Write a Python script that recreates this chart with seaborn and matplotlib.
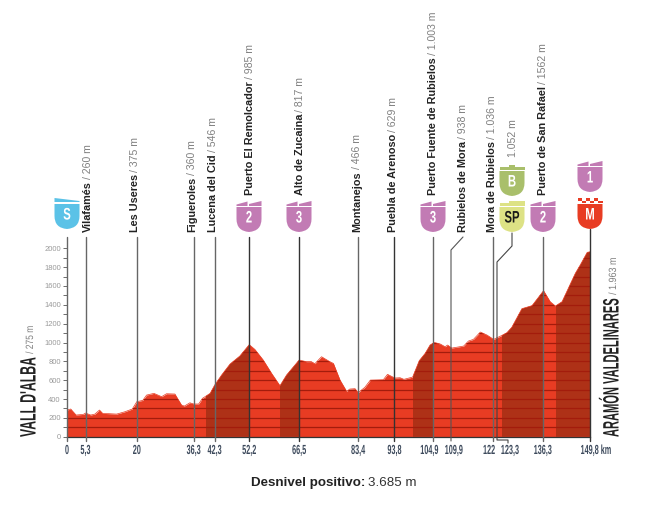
# -*- coding: utf-8 -*-
import numpy as np
import matplotlib
matplotlib.use("Agg")
import matplotlib.pyplot as plt
from matplotlib.patches import PathPatch, Polygon
from matplotlib.path import Path
from matplotlib.patheffects import AbstractPathEffect
from matplotlib.transforms import Affine2D
import pandas as pd
import seaborn as sns

# profile
km = [0, 1.05, 2.6, 4.7, 5.3, 6.8, 8, 9.3, 10.2, 14.2, 16.6, 18.7, 20, 21.7, 22.8, 24.9, 27.1, 28.5,
      30.9, 32.8, 33.6, 35.2, 36.3, 37.7, 38.8, 41, 42.3, 44.3, 46.7, 49.5, 52.2, 53.8, 56.2, 58.6,
      61, 62.9, 66.5, 68.6, 70, 71, 72.9, 75.3, 76.3, 78.2, 80.1, 81, 82.5, 83.4, 85.3, 86.9, 90.6,
      91.8, 93.9, 95.4, 96.5, 99, 100.9, 102.6, 104, 105.2, 106.9, 108.3, 109, 110.2, 113.6, 115,
      116.4, 118.4, 120.3, 122.2, 124.6, 126, 127.4, 130.3, 133.2, 136.5, 138.4, 139.9, 141.8,
      145.6, 147, 149, 149.8]
altitude = [283, 294, 230, 237, 251, 230, 240, 283, 248, 240, 265, 294, 372, 385, 442, 460, 425, 456,
            453, 336, 325, 360, 347, 347, 407, 460, 548, 655, 771, 856, 977, 927, 814, 672,
            541, 655, 814, 796, 796, 775, 849, 796, 778, 601, 481, 506, 510, 467, 524, 601, 605,
            662, 623, 626, 609, 633, 807, 885, 973, 1001, 984, 955, 973, 941, 962, 1016,
            1033, 1111, 1079, 1033, 1076, 1104, 1161, 1359, 1391, 1550, 1433, 1387, 1433,
            1734, 1822, 1957, 1963]

dark_from = [39.8, 61, 99, 124.6, 140]
dark_to = [52.2, 66.5, 105.2, 136.3, 149.8]

tick_km = [0, 5.3, 20, 36.3, 42.3, 52.2, 66.5, 83.4, 93.8, 104.9, 122, 136.3, 149.8]
tick_text_km = [0, 5.3, 20, 36.3, 42.3, 52.2, 66.5, 83.4, 93.8, 103.8, 110.8, 120.9, 126.9, 136.3, 151.5]
tick_text = ["0", "5,3", "20", "36,3", "42,3", "52,2", "66,5", "83,4", "93,8", "104,9", "109,9",
             "122", "123,3", "136,3", "149,8 km"]

place_names = ["Vilafamés", "Les Useres", "Figueroles", "Lucena del Cid", "Puerto El Remolcador",
               "Alto de Zucaina", "Montanejos", "Puebla de Arenoso", "Puerto Fuente de Rubielos",
               "Rubielos de Mora", "Mora de Rubielos", "Puerto de San Rafael"]
place_heights = ["260 m", "375 m", "360 m", "546 m", "985 m", "817 m", "466 m", "629 m", "1.003 m",
                 "938 m", "1.036 m", "1562 m"]
place_x = [88, 135, 192, 213, 250, 300, 357, 393, 433, 463, 492, 543]
place_y = [232, 232, 232, 232, 195, 195, 232, 232, 195, 232, 232, 195]

W, H = 650, 508
X0, X1, Y0, Y1 = 67, 590, 436.7, 248.3

RED = "#E83C23"
DARK = "#AE3117"
LINE = "#A31C0C"
PURPLE = "#C27BB4"
NAVY = "#3d4a5c"

sns.set_theme(style="white")
plt.rcParams["font.family"] = ["Liberation Sans", "DejaVu Sans"]


class Squeeze(AbstractPathEffect):
    # no condensed font here, so narrow the glyphs along the baseline
    def __init__(self, sx):
        super().__init__()
        self.sx = sx

    def draw_path(self, renderer, gc, tpath, affine, rgbFace=None):
        renderer.draw_path(gc, tpath, Affine2D().scale(self.sx, 1) + affine, rgbFace)


fig = plt.figure(figsize=(W / 100, H / 100), dpi=100)
ax = fig.add_axes([X0 / W, 1 - Y0 / H, (X1 - X0) / W, (Y0 - Y1) / H])
ax.set_xlim(0, 149.8)
ax.set_ylim(0, 2000)
ax.patch.set_alpha(0)
rend = fig.canvas.get_renderer()

# pixel coordinates, origin top left like the picture
px = Affine2D().scale(1, -1).translate(0, H)

df = pd.DataFrame({"km": km, "altitude": altitude})
ax.fill_between(df["km"], df["altitude"], color=RED, lw=0, zorder=1)
outline = Polygon(np.r_[[[0, 0]], df.values, [[149.8, 0]]], closed=True, transform=ax.transData,
                  fc="none", ec="none")
ax.add_patch(outline)
for a, b in zip(dark_from, dark_to):
    ax.axvspan(a, b, color=DARK, lw=0, zorder=2).set_clip_path(outline)
for h in np.arange(100, 2000, 100):
    ax.axhline(h, color=LINE, lw=0.9, zorder=3).set_clip_path(outline)
sns.lineplot(data=df, x="km", y="altitude", color=RED, lw=0.5, ax=ax, zorder=3)

ax.set_xlabel("")
ax.set_ylabel("")
ax.set_xticks([])
ax.set_yticks(np.arange(0, 2001, 200))
ax.set_yticks(np.arange(100, 2000, 200), minor=True)
ax.set_yticklabels([str(v) for v in np.arange(0, 2001, 200)], color="#9a9a9a", fontsize=5.5)
ax.tick_params(axis="y", which="both", left=True, length=3, width=0.6, color="#555555", pad=1.5)
for s in ["top", "right", "left"]:
    ax.spines[s].set_visible(False)
ax.spines["bottom"].set_color("#333333")
ax.spines["bottom"].set_linewidth(0.9)


def vline(x, y0, y1, color="#555555", lw=1.1, z=5):
    fig.add_artist(plt.Line2D([x, x], [y0, y1], color=color, lw=lw, transform=px, zorder=z))


def xpx(k):
    return X0 + (X1 - X0) * k / 149.8


def narrow_h(cx, cy, s, size, sx, **kw):
    # horizontal squeezed text, centred on cx
    t = fig.text(cx, cy, s, transform=px, ha="left", va="center", fontsize=size,
                 path_effects=[Squeeze(sx)], **kw)
    t.set_x(cx - t.get_window_extent(rend).width * sx / 2)
    return t


def narrow_v(x, y, s, size, sx, **kw):
    # vertical squeezed text going up from y, returns the y where it ends
    t = fig.text(x, y, s, transform=px, rotation=90, ha="center", va="bottom", fontsize=size,
                 path_effects=[Squeeze(sx)], **kw)
    return y - t.get_window_extent(rend).height * sx


# stems and km ticks
for k in tick_km:
    thin = k in (52.2, 66.5, 93.8, 149.8)
    top = 229 if k == 149.8 else 237
    vline(xpx(k), top, 441, color="#333333" if thin else "#666666", lw=1.0)

# elbow leaders
fig.add_artist(plt.Line2D([463, 451, 451], [237, 250, 441], color="#555555", lw=0.8, transform=px, zorder=5))
fig.add_artist(plt.Line2D([512, 512, 497, 497, 508, 508], [233, 246, 262, 440, 440, 443],
                          color="#444444", lw=0.8, transform=px, zorder=5))

for k, t in zip(tick_text_km, tick_text):
    narrow_h(xpx(k), 451, t, 9.5, 0.55, color=NAVY, fontweight="bold")

# place names, bold name then grey height stacked upward
for name, height, x, y in zip(place_names, place_heights, place_x, place_y):
    t = fig.text(x, y, name, transform=px, rotation=90, ha="center", va="bottom", fontsize=7.8,
                 fontweight="bold", color="#222222")
    top = y - t.get_window_extent(rend).height
    fig.text(x, top - 2, "/ " + height, transform=px, rotation=90, ha="center", va="bottom",
             fontsize=7.6, color="#808080")
fig.text(512.7, 157, "1.052 m", transform=px, rotation=90, ha="center", va="bottom", fontsize=7.6,
         color="#808080")


def shield(cx, top, color, letter, kind="cat", fg="white"):
    hw, body, h = 12.5, 6, 31
    verts = [(-hw, body), (-hw, h - 13), (-hw, h - 1), (0, h), (hw, h - 1), (hw, h - 13), (hw, body), (-hw, body)]
    codes = [Path.MOVETO, Path.LINETO, Path.CURVE3, Path.CURVE3, Path.CURVE3, Path.CURVE3, Path.LINETO,
             Path.CLOSEPOLY]
    tr = Affine2D().translate(cx, top) + px
    fig.add_artist(PathPatch(Path(verts, codes), fc=color, ec="none", transform=tr, zorder=6))
    if kind == "cat":
        fins = [[(-hw, 3.5), (-1.5, 0.5), (-1.5, 5), (-hw, 5)], [(0, 5), (0, 3), (hw, 0), (hw, 5)]]
    elif kind == "flag":
        fins = [[(-hw, 0), (hw, 3), (hw, 4), (-hw, 4)]]
    elif kind == "sp":
        fins = [[(-hw, 2), (-3, 2), (-3, 0), (hw, 0), (hw, 5), (-hw, 5)]]
    elif kind == "bonus":
        fins = [[(-hw, 2), (-3, 2), (-3, 0), (3, 0), (3, 2), (hw, 2), (hw, 5), (-hw, 5)]]
    else:
        fins = []
        for i in range(6):
            for j in range(2):
                if (i + j) % 2 == 0:
                    xx = -hw + i * 25 / 6
                    fins.append([(xx, j * 2.5), (xx + 25 / 6, j * 2.5), (xx + 25 / 6, j * 2.5 + 2.5), (xx, j * 2.5 + 2.5)])
    for f in fins:
        fig.add_artist(Polygon(f, closed=True, fc=color, ec="none", transform=tr, zorder=6))
    t = narrow_h(cx, top + 17, letter, 12, 0.68, color=fg, fontweight="bold")
    t.set_zorder(7)


shield(67, 198, "#5BC2E7", "S", "flag")
shield(249, 201, PURPLE, "2")
shield(299, 201, PURPLE, "3")
shield(433, 201, PURPLE, "3")
shield(512, 165, "#A9BF6B", "B", "bonus")
shield(512, 201, "#DDE285", "SP", "sp", fg="#1a1a1a")
shield(543, 201, PURPLE, "2")
shield(590, 161, PURPLE, "1")
shield(590, 198, RED, "M", "mountain")

# start and finish names
top = narrow_v(30, 437, "VALL D'ALBA", 16, 0.55, fontweight="bold", color="#222222")
narrow_v(30, top - 3, "/ 275 m", 7.6, 0.8, color="#808080")
top = narrow_v(613, 437, "ARAMÓN VALDELINARES", 16, 0.5, fontweight="bold", color="#222222")
narrow_v(613, top - 3, "/ 1.963 m", 7.6, 0.85, color="#808080")

t = fig.text(251, 483, "Desnivel positivo:", transform=px, ha="left", va="center", fontsize=9.6,
             fontweight="bold", color="#222222")
fig.text(251 + t.get_window_extent(rend).width + 3, 483, "3.685 m", transform=px, ha="left", va="center",
         fontsize=9.6, color="#333333")

fig.savefig("out.png", dpi=100)
